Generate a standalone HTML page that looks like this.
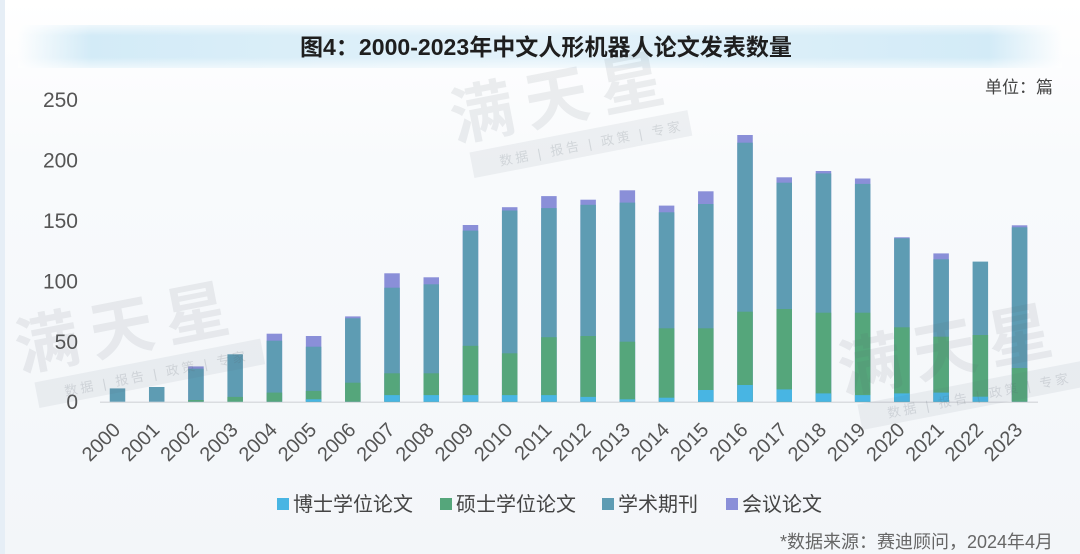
<!DOCTYPE html>
<html>
<head>
<meta charset="utf-8">
<style>
  html, body { margin:0; padding:0; }
  body { width:1080px; height:554px; overflow:hidden; background:#f5f7fa; }
  svg { display:block; }
  text { font-family: "Liberation Sans", "Noto Sans CJK SC", sans-serif; }
</style>
</head>
<body>
<svg width="1080" height="554" viewBox="0 0 1080 554" xmlns="http://www.w3.org/2000/svg">
  <defs>
    <linearGradient id="bg" x1="0" y1="0" x2="0" y2="1">
      <stop offset="0" stop-color="#ffffff"/>
      <stop offset="0.3" stop-color="#f8fafc"/>
      <stop offset="1" stop-color="#f3f6f9"/>
    </linearGradient>
    <linearGradient id="band" x1="0" y1="0" x2="1" y2="0">
      <stop offset="0" stop-color="#d3ebf7" stop-opacity="0"/>
      <stop offset="0.07" stop-color="#d3ebf7" stop-opacity="1"/>
      <stop offset="0.5" stop-color="#e3f2fa" stop-opacity="1"/>
      <stop offset="0.93" stop-color="#d3ebf7" stop-opacity="1"/>
      <stop offset="1" stop-color="#d3ebf7" stop-opacity="0"/>
    </linearGradient>
    <linearGradient id="bandv" x1="0" y1="0" x2="0" y2="1">
      <stop offset="0" stop-color="#ffffff" stop-opacity="0.6"/>
      <stop offset="0.25" stop-color="#ffffff" stop-opacity="0"/>
      <stop offset="0.75" stop-color="#ffffff" stop-opacity="0"/>
      <stop offset="1" stop-color="#ffffff" stop-opacity="0.6"/>
    </linearGradient>
  </defs>

  <rect x="0" y="0" width="1080" height="554" fill="url(#bg)"/>
  <rect x="0" y="0" width="5" height="554" fill="#e6eef6"/>

  <!-- title band -->
  <rect x="18" y="25" width="1044" height="43" fill="url(#band)"/>
  <rect x="18" y="25" width="1044" height="43" fill="url(#bandv)"/>
  <text x="546" y="55" text-anchor="middle" font-size="23" font-weight="bold" fill="#1e1e1e" textLength="492" lengthAdjust="spacingAndGlyphs">图4：2000-2023年中文人形机器人论文发表数量</text>

  <text x="1053" y="93" text-anchor="end" font-size="17" fill="#444">单位：篇</text>

  <!-- y axis labels -->
  <g font-size="21" fill="#555" text-anchor="end">
    <text x="78" y="107.2">250</text>
    <text x="78" y="167.6">200</text>
    <text x="78" y="228">150</text>
    <text x="78" y="288.4">100</text>
    <text x="78" y="348.8">50</text>
    <text x="78" y="409.2">0</text>
  </g>

  <!-- baseline -->
  <line x1="100" y1="402.2" x2="1038" y2="402.2" stroke="#d2d4d8" stroke-width="1.2"/>

  <!-- bars -->
  <g transform="translate(0,401.7)">
    <!-- 2000 -->
    <rect x="109.75" y="-13.3" width="15.5" height="13.3" fill="#5e9cb3"/>
    <!-- 2001 -->
    <rect x="148.97" y="-14.7" width="15.5" height="14.7" fill="#5e9cb3"/>
    <!-- 2002 -->
    <rect x="188.19" y="-35.3" width="15.5" height="35.3" fill="#8a8fd8"/>
    <rect x="188.19" y="-33.0" width="15.5" height="33.0" fill="#5e9cb3"/>
    <rect x="188.19" y="-1.7" width="15.5" height="1.7" fill="#55a67b"/>
    <!-- 2003 -->
    <rect x="227.41" y="-47.4" width="15.5" height="47.4" fill="#5e9cb3"/>
    <rect x="227.41" y="-4.8" width="15.5" height="4.8" fill="#55a67b"/>
    <!-- 2004 -->
    <rect x="266.63" y="-68.0" width="15.5" height="68.0" fill="#8a8fd8"/>
    <rect x="266.63" y="-61.0" width="15.5" height="61.0" fill="#5e9cb3"/>
    <rect x="266.63" y="-9.1" width="15.5" height="9.1" fill="#55a67b"/>
    <!-- 2005 -->
    <rect x="305.85" y="-65.7" width="15.5" height="65.7" fill="#8a8fd8"/>
    <rect x="305.85" y="-55.0" width="15.5" height="55.0" fill="#5e9cb3"/>
    <rect x="305.85" y="-10.8" width="15.5" height="10.8" fill="#55a67b"/>
    <rect x="305.85" y="-2.4" width="15.5" height="2.4" fill="#48b5e3"/>
    <!-- 2006 -->
    <rect x="345.07" y="-85.3" width="15.5" height="85.3" fill="#8a8fd8"/>
    <rect x="345.07" y="-83.4" width="15.5" height="83.4" fill="#5e9cb3"/>
    <rect x="345.07" y="-19.0" width="15.5" height="19.0" fill="#55a67b"/>
    <!-- 2007 -->
    <rect x="384.29" y="-128.4" width="15.5" height="128.4" fill="#8a8fd8"/>
    <rect x="384.29" y="-114.0" width="15.5" height="114.0" fill="#5e9cb3"/>
    <rect x="384.29" y="-28.4" width="15.5" height="28.4" fill="#55a67b"/>
    <rect x="384.29" y="-6.6" width="15.5" height="6.6" fill="#48b5e3"/>
    <!-- 2008 -->
    <rect x="423.51" y="-124.4" width="15.5" height="124.4" fill="#8a8fd8"/>
    <rect x="423.51" y="-117.4" width="15.5" height="117.4" fill="#5e9cb3"/>
    <rect x="423.51" y="-28.4" width="15.5" height="28.4" fill="#55a67b"/>
    <rect x="423.51" y="-6.6" width="15.5" height="6.6" fill="#48b5e3"/>
    <!-- 2009 -->
    <rect x="462.73" y="-176.7" width="15.5" height="176.7" fill="#8a8fd8"/>
    <rect x="462.73" y="-171.1" width="15.5" height="171.1" fill="#5e9cb3"/>
    <rect x="462.73" y="-55.9" width="15.5" height="55.9" fill="#55a67b"/>
    <rect x="462.73" y="-6.6" width="15.5" height="6.6" fill="#48b5e3"/>
    <!-- 2010 -->
    <rect x="501.95" y="-194.5" width="15.5" height="194.5" fill="#8a8fd8"/>
    <rect x="501.95" y="-191.2" width="15.5" height="191.2" fill="#5e9cb3"/>
    <rect x="501.95" y="-48.4" width="15.5" height="48.4" fill="#55a67b"/>
    <rect x="501.95" y="-6.6" width="15.5" height="6.6" fill="#48b5e3"/>
    <!-- 2011 -->
    <rect x="541.17" y="-205.6" width="15.5" height="205.6" fill="#8a8fd8"/>
    <rect x="541.17" y="-193.6" width="15.5" height="193.6" fill="#5e9cb3"/>
    <rect x="541.17" y="-64.5" width="15.5" height="64.5" fill="#55a67b"/>
    <rect x="541.17" y="-6.6" width="15.5" height="6.6" fill="#48b5e3"/>
    <!-- 2012 -->
    <rect x="580.39" y="-202.0" width="15.5" height="202.0" fill="#8a8fd8"/>
    <rect x="580.39" y="-196.9" width="15.5" height="196.9" fill="#5e9cb3"/>
    <rect x="580.39" y="-65.7" width="15.5" height="65.7" fill="#55a67b"/>
    <rect x="580.39" y="-4.8" width="15.5" height="4.8" fill="#48b5e3"/>
    <!-- 2013 -->
    <rect x="619.61" y="-211.4" width="15.5" height="211.4" fill="#8a8fd8"/>
    <rect x="619.61" y="-199.1" width="15.5" height="199.1" fill="#5e9cb3"/>
    <rect x="619.61" y="-60.0" width="15.5" height="60.0" fill="#55a67b"/>
    <rect x="619.61" y="-2.4" width="15.5" height="2.4" fill="#48b5e3"/>
    <!-- 2014 -->
    <rect x="658.83" y="-196.1" width="15.5" height="196.1" fill="#8a8fd8"/>
    <rect x="658.83" y="-189.4" width="15.5" height="189.4" fill="#5e9cb3"/>
    <rect x="658.83" y="-73.4" width="15.5" height="73.4" fill="#55a67b"/>
    <rect x="658.83" y="-4.0" width="15.5" height="4.0" fill="#48b5e3"/>
    <!-- 2015 -->
    <rect x="698.05" y="-210.4" width="15.5" height="210.4" fill="#8a8fd8"/>
    <rect x="698.05" y="-197.7" width="15.5" height="197.7" fill="#5e9cb3"/>
    <rect x="698.05" y="-73.4" width="15.5" height="73.4" fill="#55a67b"/>
    <rect x="698.05" y="-11.7" width="15.5" height="11.7" fill="#48b5e3"/>
    <!-- 2016 -->
    <rect x="737.27" y="-266.7" width="15.5" height="266.7" fill="#8a8fd8"/>
    <rect x="737.27" y="-259.0" width="15.5" height="259.0" fill="#5e9cb3"/>
    <rect x="737.27" y="-90.0" width="15.5" height="90.0" fill="#55a67b"/>
    <rect x="737.27" y="-16.7" width="15.5" height="16.7" fill="#48b5e3"/>
    <!-- 2017 -->
    <rect x="776.49" y="-224.4" width="15.5" height="224.4" fill="#8a8fd8"/>
    <rect x="776.49" y="-219.0" width="15.5" height="219.0" fill="#5e9cb3"/>
    <rect x="776.49" y="-92.7" width="15.5" height="92.7" fill="#55a67b"/>
    <rect x="776.49" y="-12.3" width="15.5" height="12.3" fill="#48b5e3"/>
    <!-- 2018 -->
    <rect x="815.71" y="-230.7" width="15.5" height="230.7" fill="#8a8fd8"/>
    <rect x="815.71" y="-228.3" width="15.5" height="228.3" fill="#5e9cb3"/>
    <rect x="815.71" y="-89.0" width="15.5" height="89.0" fill="#55a67b"/>
    <rect x="815.71" y="-8.3" width="15.5" height="8.3" fill="#48b5e3"/>
    <!-- 2019 -->
    <rect x="854.93" y="-223.2" width="15.5" height="223.2" fill="#8a8fd8"/>
    <rect x="854.93" y="-217.8" width="15.5" height="217.8" fill="#5e9cb3"/>
    <rect x="854.93" y="-89.0" width="15.5" height="89.0" fill="#55a67b"/>
    <rect x="854.93" y="-6.6" width="15.5" height="6.6" fill="#48b5e3"/>
    <!-- 2020 -->
    <rect x="894.15" y="-164.4" width="15.5" height="164.4" fill="#8a8fd8"/>
    <rect x="894.15" y="-163.4" width="15.5" height="163.4" fill="#5e9cb3"/>
    <rect x="894.15" y="-74.4" width="15.5" height="74.4" fill="#55a67b"/>
    <rect x="894.15" y="-8.3" width="15.5" height="8.3" fill="#48b5e3"/>
    <!-- 2021 -->
    <rect x="933.37" y="-148.3" width="15.5" height="148.3" fill="#8a8fd8"/>
    <rect x="933.37" y="-142.4" width="15.5" height="142.4" fill="#5e9cb3"/>
    <rect x="933.37" y="-65.0" width="15.5" height="65.0" fill="#55a67b"/>
    <rect x="933.37" y="-9.1" width="15.5" height="9.1" fill="#48b5e3"/>
    <!-- 2022 -->
    <rect x="972.59" y="-140.1" width="15.5" height="140.1" fill="#5e9cb3"/>
    <rect x="972.59" y="-66.7" width="15.5" height="66.7" fill="#55a67b"/>
    <rect x="972.59" y="-5.0" width="15.5" height="5.0" fill="#48b5e3"/>
    <!-- 2023 -->
    <rect x="1011.81" y="-176.4" width="15.5" height="176.4" fill="#8a8fd8"/>
    <rect x="1011.81" y="-174.4" width="15.5" height="174.4" fill="#5e9cb3"/>
    <rect x="1011.81" y="-33.7" width="15.5" height="33.7" fill="#55a67b"/>
  </g>

  <!-- watermarks -->
  <g font-weight="bold" font-size="64">
    <g transform="translate(455,141) rotate(-11)">
      <text x="0" y="0" fill="rgba(90,100,112,0.10)" letter-spacing="12">满天星</text>
      <rect x="12" y="14" width="222" height="26" fill="rgba(90,100,112,0.08)"/>
      <text x="40" y="33" font-size="13" font-weight="normal" fill="rgba(90,100,112,0.18)" letter-spacing="3">数据 | 报告 | 政策 | 专家</text>
    </g>
    <g transform="translate(20,371) rotate(-11)">
      <text x="0" y="0" fill="rgba(90,100,112,0.10)" letter-spacing="12">满天星</text>
      <rect x="12" y="14" width="230" height="26" fill="rgba(90,100,112,0.08)"/>
      <text x="40" y="33" font-size="13" font-weight="normal" fill="rgba(90,100,112,0.18)" letter-spacing="3">数据 | 报告 | 政策 | 专家</text>
    </g>
    <g transform="translate(843,393) rotate(-11)">
      <text x="0" y="0" fill="rgba(90,100,112,0.10)" letter-spacing="12">满天星</text>
      <rect x="12" y="14" width="240" height="26" fill="rgba(90,100,112,0.08)"/>
      <text x="40" y="33" font-size="13" font-weight="normal" fill="rgba(90,100,112,0.18)" letter-spacing="3">数据 | 报告 | 政策 | 专家</text>
    </g>
  </g>

  <!-- x axis labels -->
  <g font-size="20" fill="#555" text-anchor="end">
    <text transform="translate(121.5,431) rotate(-45)">2000</text>
    <text transform="translate(160.72,431) rotate(-45)">2001</text>
    <text transform="translate(199.94,431) rotate(-45)">2002</text>
    <text transform="translate(239.16,431) rotate(-45)">2003</text>
    <text transform="translate(278.38,431) rotate(-45)">2004</text>
    <text transform="translate(317.6,431) rotate(-45)">2005</text>
    <text transform="translate(356.82,431) rotate(-45)">2006</text>
    <text transform="translate(396.04,431) rotate(-45)">2007</text>
    <text transform="translate(435.26,431) rotate(-45)">2008</text>
    <text transform="translate(474.48,431) rotate(-45)">2009</text>
    <text transform="translate(513.7,431) rotate(-45)">2010</text>
    <text transform="translate(552.92,431) rotate(-45)">2011</text>
    <text transform="translate(592.14,431) rotate(-45)">2012</text>
    <text transform="translate(631.36,431) rotate(-45)">2013</text>
    <text transform="translate(670.58,431) rotate(-45)">2014</text>
    <text transform="translate(709.8,431) rotate(-45)">2015</text>
    <text transform="translate(749.02,431) rotate(-45)">2016</text>
    <text transform="translate(788.24,431) rotate(-45)">2017</text>
    <text transform="translate(827.46,431) rotate(-45)">2018</text>
    <text transform="translate(866.68,431) rotate(-45)">2019</text>
    <text transform="translate(905.9,431) rotate(-45)">2020</text>
    <text transform="translate(945.12,431) rotate(-45)">2021</text>
    <text transform="translate(984.34,431) rotate(-45)">2022</text>
    <text transform="translate(1023.56,431) rotate(-45)">2023</text>
  </g>

  <!-- legend -->
  <rect x="277" y="498" width="12" height="12" fill="#48b5e3"/>
  <text x="293" y="511" font-size="20" fill="#444">博士学位论文</text>
  <rect x="440" y="498" width="12" height="12" fill="#55a67b"/>
  <text x="456" y="511" font-size="20" fill="#444">硕士学位论文</text>
  <rect x="602" y="498" width="12" height="12" fill="#5e9cb3"/>
  <text x="618" y="511" font-size="20" fill="#444">学术期刊</text>
  <rect x="726" y="498" width="12" height="12" fill="#8a8fd8"/>
  <text x="742" y="511" font-size="20" fill="#444">会议论文</text>

  <!-- source -->
  <text x="1053" y="548" text-anchor="end" font-size="18" fill="#666">*数据来源：赛迪顾问，2024年4月</text>
</svg>
</body>
</html>
